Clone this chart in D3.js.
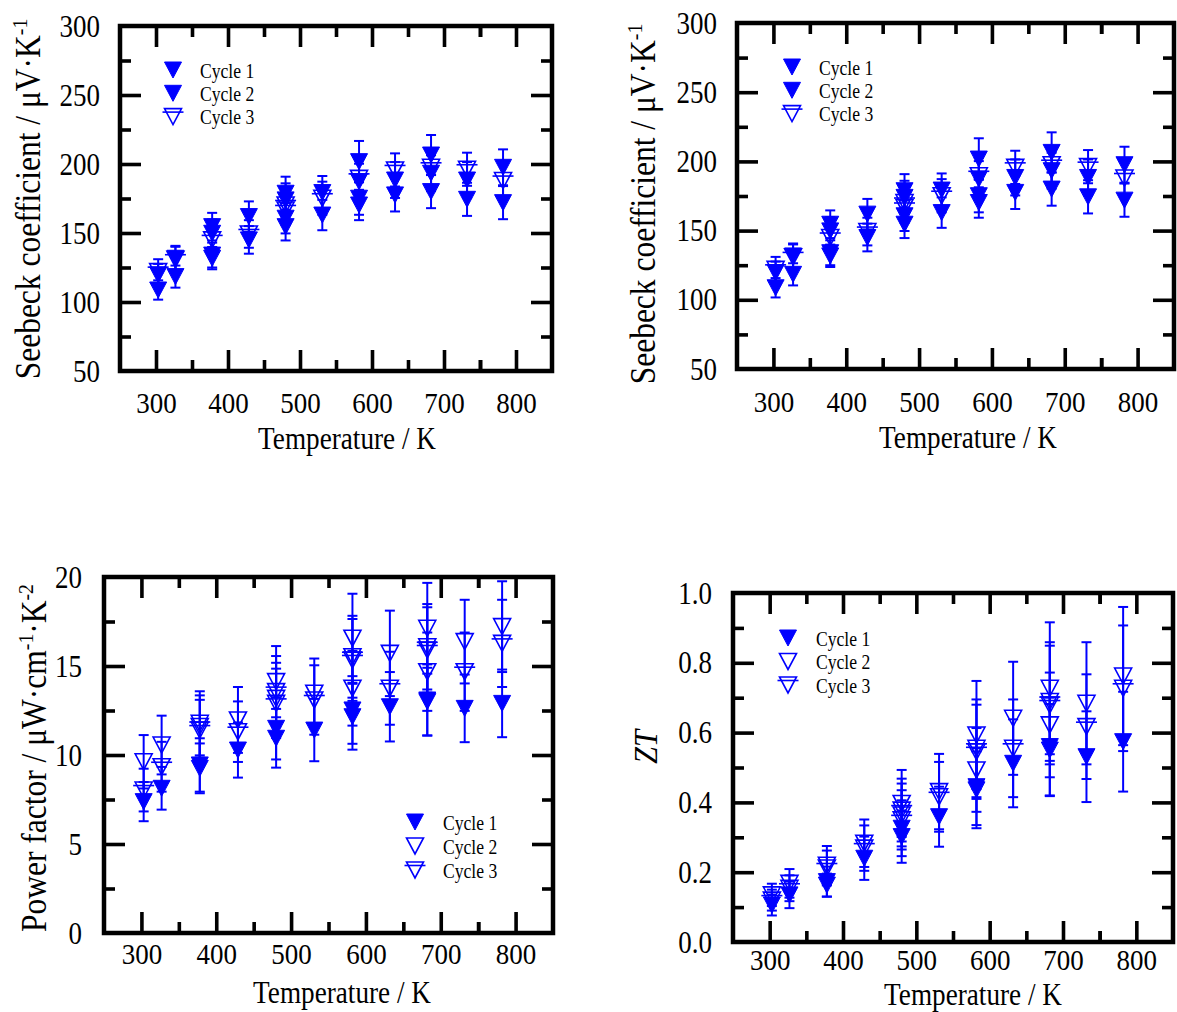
<!DOCTYPE html>
<html>
<head>
<meta charset="utf-8">
<script src="https://cdn.jsdelivr.net/npm/d3@7"></script>
<style>
  body { margin: 0; background: #fff; }
  svg { display: block; }
</style>
</head>
<body>
<svg id="chart" width="1177" height="1012"></svg>
<script>
// ---- data: [temperature K, value, error] per measurement cycle ----
const tempTicks = [300, 400, 500, 600, 700, 800];
const seebeckTicks = [50, 100, 150, 200, 250, 300];
const pfTicks = [0, 5, 10, 15, 20];
const ztTicks = [0, 0.2, 0.4, 0.6, 0.8, 1.0];
const cycleNames = ["Cycle 1", "Cycle 2", "Cycle 3"];

const seebeckCycle1 = [[303,108.7,7],[327,118.4,8],[378,131.7,8],[378,154.6,10],[429,145,10],[480,154.6,10],[480,178.8,12],[531,163,11],[582,170.3,11],[582,201.7,15],[632,177.6,12],[682,180,12],[732,174.4,12],[782,172,12]];
const seebeckCycle2 = [[303,119.6,8],[327,131.7,9],[378,134,9],[378,149.8,10],[429,161.9,11],[480,160.7,11],[480,174,12],[531,179.3,12],[582,175.2,12],[582,187.2,13],[632,188.4,13],[682,193.3,13],[682,206.5,14.5],[732,188.4,13],[782,197.6,13]];
const seebeckCycle3 = [[303,122,9],[327,131,9],[378,145,10],[429,149.3,10],[480,170.3,12],[480,166.7,11],[531,175.2,12],[582,189.6,13],[632,195.7,12],[682,197.6,13],[732,196.2,12],[782,188,13]];

const pfCycle1 = [[303,7.38,1.1],[327,8.13,1.2],[378,9.44,1.5],[378,9.25,1.4],[429,10.28,1.55],[480,11.5,1.75],[480,10.94,1.65],[531,11.4,1.75],[582,12.53,1.9],[582,12.15,1.85],[632,12.71,1.95],[682,13.09,2.0],[682,13.0,1.9],[732,12.62,1.9],[782,12.9,1.9]];
const pfCycle2 = [[303,9.62,1.5],[327,10.56,1.65],[378,11.78,1.8],[429,11.97,1.85],[480,14.12,2.0],[480,13.18,2.0],[531,13.47,1.95],[582,16.56,2.5],[582,13.75,2.1],[632,15.71,2.4],[682,17.12,2.55],[682,14.68,2.2],[732,16.37,2.35],[782,17.21,2.55]];
const pfCycle3 = [[303,8.03,1.2],[327,9.34,1.4],[378,11.6,1.75],[378,11.4,1.7],[429,11.31,1.7],[480,13.56,2.0],[480,12.9,1.95],[531,13.09,1.95],[582,15.52,2.3],[582,15.34,2.3],[632,13.75,2.05],[682,16.08,2.4],[682,15.9,2.4],[732,14.68,2.2],[782,16.27,2.45]];

const ztCycle1 = [[303,0.106,0.03],[327,0.135,0.038],[378,0.173,0.043],[378,0.163,0.033],[429,0.24,0.062],[480,0.326,0.08],[480,0.302,0.075],[531,0.359,0.086],[582,0.445,0.11],[582,0.436,0.11],[632,0.512,0.126],[682,0.56,0.14],[682,0.55,0.132],[732,0.531,0.13],[782,0.574,0.143]];
const ztCycle2 = [[303,0.135,0.032],[327,0.168,0.041],[378,0.22,0.055],[429,0.283,0.068],[480,0.397,0.096],[480,0.364,0.09],[531,0.431,0.108],[582,0.593,0.155],[582,0.493,0.12],[632,0.641,0.162],[682,0.727,0.189],[682,0.622,0.15],[732,0.684,0.175],[782,0.762,0.198]];
const ztCycle3 = [[303,0.12,0.03],[327,0.154,0.037],[378,0.212,0.05],[429,0.269,0.065],[480,0.378,0.09],[480,0.35,0.085],[531,0.416,0.1],[582,0.555,0.14],[582,0.545,0.135],[632,0.555,0.14],[682,0.689,0.17],[682,0.679,0.17],[732,0.617,0.15],[782,0.727,0.18]];

// ---- styling ----
const BLUE = "#0000ff";
const FONT = '"Liberation Serif","Times New Roman",serif';
const TICK_MAJOR = 21, TICK_MINOR = 11;
const TRI_W = 17, TRI_H = 16;

const svg = d3.select("#chart");

function label(parent, x, y, size, sx, anchor, rotate) {
  return parent.append("text")
    .attr("font-family", FONT)
    .attr("font-size", size)
    .attr("text-anchor", anchor)
    .attr("fill", "#000")
    .attr("transform", `translate(${x},${y})` + (rotate ? " rotate(-90)" : "") + ` scale(${sx},1)`);
}

function symbol(parent, cx, cy, kind, w, h) {
  const pts = [[cx - w/2, cy - h/2], [cx + w/2, cy - h/2], [cx, cy + h/2]];
  parent.append("path")
    .attr("d", d3.line()(pts) + "Z")
    .attr("fill", kind === "filled" ? BLUE : "none")
    .attr("stroke", BLUE)
    .attr("stroke-width", kind === "filled" ? 1 : 1.6)
    .attr("stroke-linejoin", "miter");
  if (kind === "bar") {
    parent.append("line")
      .attr("x1", cx - w/2 - 2).attr("x2", cx + w/2 + 2)
      .attr("y1", cy - h/2 + 3.5).attr("y2", cy - h/2 + 3.5)
      .attr("stroke", BLUE).attr("stroke-width", 1.6);
  }
}

function drawPanel(cfg) {
  const g = svg.append("g");
  const x = d3.scaleLinear().domain([250, 850]).range([cfg.l, cfg.r]);
  const y = d3.scaleLinear().domain([cfg.ticks[0], cfg.ticks[cfg.ticks.length - 1]]).range([cfg.b, cfg.t]);
  const xMinor = d3.pairs(tempTicks).map(([a, b]) => (a + b) / 2).concat([750]);
  const yMinor = d3.pairs(cfg.ticks).map(([a, b]) => (a + b) / 2);
  const yMajor = cfg.ticks.slice(1, -1);

  const sides = [
    [() => d3.axisBottom(x), `translate(0,${cfg.b})`, tempTicks, xMinor],
    [() => d3.axisTop(x), `translate(0,${cfg.t})`, tempTicks, xMinor],
    [() => d3.axisLeft(y), `translate(${cfg.l},0)`, yMajor, yMinor],
    [() => d3.axisRight(y), `translate(${cfg.r},0)`, yMajor, yMinor]
  ];
  sides.forEach(([make, tr, maj, min]) => {
    [[maj, TICK_MAJOR], [min, TICK_MINOR]].forEach(([vals, len]) => {
      const a = g.append("g").attr("transform", tr)
        .call(make().tickValues(vals).tickSizeInner(-len).tickSizeOuter(0).tickFormat(""));
      a.select(".domain").remove();
      a.selectAll("line").attr("stroke", "#000").attr("stroke-width", 3.6);
    });
  });

  // tick labels
  const xl = g.append("g").attr("transform", `translate(0,${cfg.xLabelBase})`)
    .call(d3.axisBottom(x).tickValues(tempTicks).tickSize(0).tickFormat(d3.format("d")));
  xl.select(".domain").remove();
  xl.selectAll("text").attr("y", null).attr("dy", null)
    .attr("font-family", FONT).attr("font-size", 30).attr("fill", "#000")
    .attr("transform", "scale(0.9,1)");

  const yl = g.append("g").attr("transform", `translate(${cfg.yLabelX},0)`)
    .call(d3.axisLeft(y).tickValues(cfg.ticks).tickSize(0).tickPadding(0).tickFormat(cfg.fmt));
  yl.select(".domain").remove();
  yl.selectAll("text").attr("x", null).attr("dy", null)
    .attr("font-family", FONT).attr("font-size", 31).attr("fill", "#000")
    .attr("transform", "translate(0,10) scale(0.87,1)");

  // frame
  g.append("rect")
    .attr("x", cfg.l).attr("y", cfg.t)
    .attr("width", cfg.r - cfg.l).attr("height", cfg.b - cfg.t)
    .attr("fill", "none").attr("stroke", "#000").attr("stroke-width", 4.5);

  // data with error bars
  cfg.data.forEach((series, i) => {
    const sg = g.append("g");
    series.forEach(([T, v, e]) => {
      const px = x(T), y0 = y(v - e), y1 = y(v + e);
      sg.append("line").attr("x1", px).attr("x2", px).attr("y1", y0).attr("y2", y1)
        .attr("stroke", BLUE).attr("stroke-width", 2);
      [y0, y1].forEach(yy => sg.append("line")
        .attr("x1", px - 5).attr("x2", px + 5).attr("y1", yy).attr("y2", yy)
        .attr("stroke", BLUE).attr("stroke-width", 2));
    });
    series.forEach(([T, v]) => symbol(sg, x(T), y(v), cfg.symbols[i], TRI_W, TRI_H));
  });

  // legend
  cycleNames.forEach((name, i) => {
    const ly = cfg.legend.y + i * cfg.legend.dy;
    symbol(g, cfg.legend.x, ly, cfg.symbols[i], TRI_W, 16);
    label(g, cfg.legend.tx, ly + 7.5, 22, 0.8, "start").text(name);
  });

  // axis titles
  label(g, cfg.title.x, cfg.title.y, 32, 0.85, "middle").text("Temperature / K");
  const yt = label(g, cfg.ytitle.x, cfg.ytitle.y, cfg.ytitle.size, cfg.ytitle.sx, "middle", true);
  if (cfg.ytitle.italic) yt.attr("font-style", "italic");
  let prevSup = false;
  cfg.ytitle.parts.forEach(([s, sup]) => {
    const dy = sup ? -13 : (prevSup ? 13 : 0);
    yt.append("tspan").attr("dy", dy).attr("font-size", sup ? 22 : null).text(s);
    prevSup = sup;
  });
}

const seebeckTitle = [["Seebeck coefficient / \u03bcV\u00b7K", false], ["-1", true]];
const pfTitle = [["Power factor / \u03bcW\u00b7cm", false], ["-1", true], ["\u00b7K", false], ["-2", true]];

drawPanel({
  l: 120, t: 26, r: 552, b: 371, ticks: seebeckTicks, fmt: d3.format("d"),
  data: [seebeckCycle1, seebeckCycle2, seebeckCycle3], symbols: ["filled", "filled", "bar"],
  legend: { x: 173, y: 70, dy: 23.3, tx: 200 },
  yLabelX: 100, xLabelBase: 413, title: { x: 347, y: 448.5 },
  ytitle: { x: 40, y: 199, size: 35, sx: 0.9, parts: seebeckTitle }
});
drawPanel({
  l: 737, t: 23, r: 1174, b: 369, ticks: seebeckTicks, fmt: d3.format("d"),
  data: [seebeckCycle1, seebeckCycle2, seebeckCycle3], symbols: ["filled", "filled", "bar"],
  legend: { x: 792, y: 67, dy: 23.3, tx: 819 },
  yLabelX: 717, xLabelBase: 412, title: { x: 968, y: 447.5 },
  ytitle: { x: 655, y: 204, size: 35, sx: 0.9, parts: seebeckTitle }
});
drawPanel({
  l: 104, t: 577, r: 553, b: 933, ticks: pfTicks, fmt: d3.format("d"),
  data: [pfCycle1, pfCycle2, pfCycle3], symbols: ["filled", "open", "bar"],
  legend: { x: 415, y: 822, dy: 24, tx: 443 },
  yLabelX: 82, xLabelBase: 964, title: { x: 342, y: 1003 },
  ytitle: { x: 46, y: 758, size: 35, sx: 0.9, parts: pfTitle }
});
drawPanel({
  l: 733, t: 593, r: 1173, b: 942, ticks: ztTicks, fmt: d3.format(".1f"),
  data: [ztCycle1, ztCycle2, ztCycle3], symbols: ["filled", "open", "bar"],
  legend: { x: 788, y: 638, dy: 23.5, tx: 816 },
  yLabelX: 712, xLabelBase: 970, title: { x: 973, y: 1005 },
  ytitle: { x: 657, y: 747, size: 34, sx: 0.9, italic: true, parts: [["ZT", false]] }
});
</script>
</body>
</html>
